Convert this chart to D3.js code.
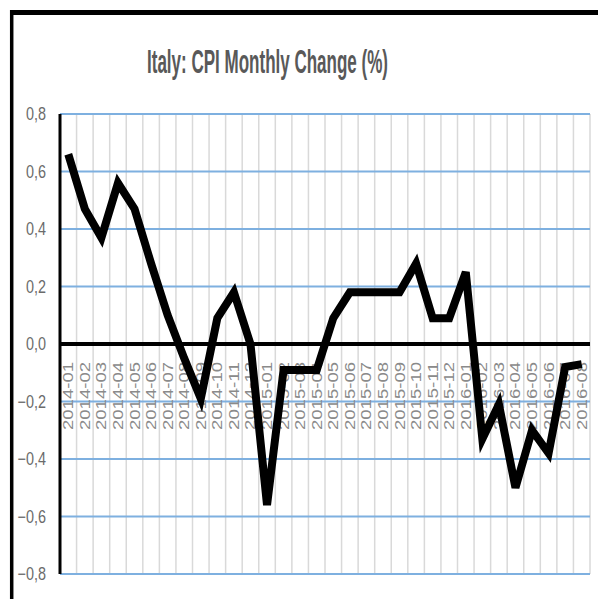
<!DOCTYPE html>
<html>
<head>
<meta charset="utf-8">
<script src="https://cdn.jsdelivr.net/npm/d3@7"></script>
<style>
  body { margin: 0; background: #fff; }
  text { font-family: "Liberation Sans", Arial, sans-serif; }
</style>
</head>
<body>
<div id="chart"></div>
<script>
// months shown on the x axis
var months = ["2014-01","2014-02","2014-03","2014-04","2014-05","2014-06","2014-07","2014-08",
  "2014-09","2014-10","2014-11","2014-12","2015-01","2015-02","2015-03","2015-04",
  "2015-05","2015-06","2015-07","2015-08","2015-09","2015-10","2015-11","2015-12",
  "2016-01","2016-02","2016-03","2016-04","2016-05","2016-06","2016-07","2016-08"];

// monthly change (%)
var cpiChange = [0.66, 0.47, 0.37, 0.56, 0.47, 0.28, 0.10, -0.05,
  -0.19, 0.09, 0.18, 0.0, -0.56, -0.09, -0.09, -0.09,
  0.09, 0.18, 0.18, 0.18, 0.18, 0.28, 0.09, 0.09,
  0.25, -0.33, -0.21, -0.50, -0.30, -0.38, -0.08, -0.07];

var yTicks = [-0.8, -0.6, -0.4, -0.2, 0.0, 0.2, 0.4, 0.6, 0.8];

var W = 598, H = 599;
var margin = {top: 114, right: 8, bottom: 25, left: 60},
  width = W - margin.left - margin.right,
  height = H - margin.top - margin.bottom;

var svg = d3.select("#chart").append("svg")
  .attr("width", W)
  .attr("height", H);

// frame: thick top edge and left edge
svg.append("line").attr("x1", 10).attr("x2", W).attr("y1", 12.5).attr("y2", 12.5)
  .attr("stroke", "#000").attr("stroke-width", 5);
svg.append("line").attr("x1", 11.7).attr("x2", 11.7).attr("y1", 10).attr("y2", H)
  .attr("stroke", "#000").attr("stroke-width", 3.5);

// title, squeezed narrow like the original (measure then scale)
var title = svg.append("text")
  .attr("text-anchor", "middle")
  .style("font-size", "33px")
  .style("font-weight", "bold")
  .style("fill", "#595959")
  .text("Italy: CPI Monthly Change (%)");
var tw = title.node().getComputedTextLength();
title.attr("transform", "translate(267.5,73) scale(" + (241 / tw) + ",1)");

var g = svg.append("g")
  .attr("transform", "translate(" + margin.left + "," + margin.top + ")");

var x = d3.scaleBand().domain(months).range([0, width]);
var y = d3.scaleLinear().domain([-0.8, 0.8]).range([height, 0]);

var fmt = function(v) { return d3.format(".1f")(v).replace(".", ","); };

// vertical gridlines on category edges
g.selectAll(".vgrid")
  .data(months)
  .enter().append("line")
    .attr("class", "vgrid")
    .attr("x1", function(d) { return x(d) + x.bandwidth(); })
    .attr("x2", function(d) { return x(d) + x.bandwidth(); })
    .attr("y1", 0).attr("y2", height)
    .attr("stroke", "#d9d9d9").attr("stroke-width", 1.5);

// horizontal gridlines
g.selectAll(".hgrid")
  .data(yTicks.filter(function(d) { return d !== 0; }))
  .enter().append("line")
    .attr("class", "hgrid")
    .attr("x1", 0).attr("x2", width)
    .attr("y1", function(d) { return y(d); })
    .attr("y2", function(d) { return y(d); })
    .attr("stroke", "#7eb0e0").attr("stroke-width", 1.8);

// y tick labels
g.selectAll(".ylab")
  .data(yTicks)
  .enter().append("text")
    .attr("class", "ylab")
    .attr("transform", function(d) { return "translate(-14," + y(d) + ") scale(0.8,1)"; })
    .attr("dy", "0.36em")
    .attr("text-anchor", "end")
    .style("font-size", "18px")
    .style("fill", "#6b6b6b")
    .text(fmt);

// zero line and y axis line
g.append("line").attr("x1", 0).attr("x2", width).attr("y1", y(0)).attr("y2", y(0))
  .attr("stroke", "#000").attr("stroke-width", 4);
g.append("line").attr("x1", 0).attr("x2", 0).attr("y1", 0).attr("y2", height)
  .attr("stroke", "#000").attr("stroke-width", 3);

// x labels, rotated, hanging below the zero line
g.selectAll(".xlab")
  .data(months)
  .enter().append("text")
    .attr("class", "xlab")
    .attr("transform", function(d) {
      return "translate(" + (x(d) + x.bandwidth() / 2 + 5) + "," + (y(0) + 86) + ") rotate(-90)";
    })
    .attr("textLength", 68)
    .attr("lengthAdjust", "spacingAndGlyphs")
    .style("font-size", "14px")
    .style("fill", "#8a8a8a")
    .text(function(d) { return d; });

// the series
var line = d3.line()
  .x(function(d, i) { return x(months[i]) + x.bandwidth() / 2; })
  .y(function(d) { return y(d); });

g.append("path")
  .datum(cpiChange)
  .attr("d", line)
  .attr("fill", "none")
  .attr("stroke", "#000")
  .attr("stroke-width", 8)
  .attr("stroke-linejoin", "miter");
</script>
</body>
</html>
